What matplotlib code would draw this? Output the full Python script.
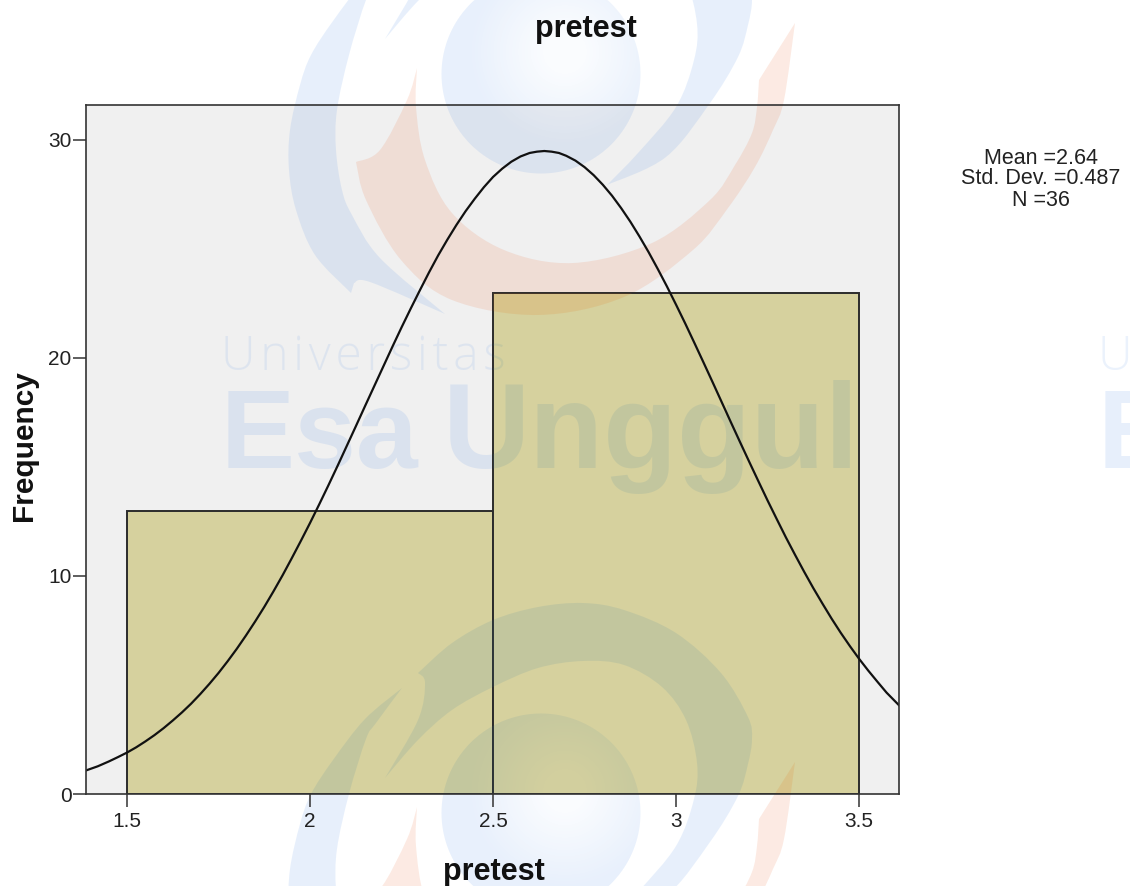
import numpy as np
import matplotlib
matplotlib.use('Agg')
import matplotlib.pyplot as plt
from matplotlib.colors import to_rgb
from matplotlib.path import Path
from matplotlib.patches import PathPatch
from matplotlib.transforms import Affine2D, TransformedBbox

plt.rcParams['font.family'] = ['Liberation Sans', 'DejaVu Sans']

title = 'pretest'
x_label = 'pretest'
y_label = 'Frequency'

bin_edges = [1.5, 2.5]
bin_width = 1.0
counts = [13, 23]

x_ticks = [1.5, 2, 2.5, 3, 3.5]
x_tick_labels = ['1.5', '2', '2.5', '3', '3.5']
y_ticks = [0, 10, 20, 30]

curve_x = [1.388, 1.42, 1.45, 1.475, 1.5, 1.525, 1.55, 1.575, 1.6, 1.625, 1.65, 1.675,
           1.7, 1.725, 1.75, 1.775, 1.8, 1.825, 1.85, 1.875, 1.9, 1.925, 1.95, 1.975,
           2.0, 2.025, 2.05, 2.075, 2.1, 2.125, 2.15, 2.175, 2.2, 2.225, 2.25, 2.275,
           2.3, 2.325, 2.35, 2.375, 2.4, 2.425, 2.45, 2.475, 2.5, 2.525, 2.55, 2.575,
           2.6, 2.62, 2.64, 2.66, 2.68, 2.7, 2.725, 2.75, 2.775, 2.8, 2.825, 2.85,
           2.875, 2.9, 2.925, 2.95, 2.975, 3.0, 3.025, 3.05, 3.075, 3.1, 3.125, 3.15,
           3.175, 3.2, 3.225, 3.25, 3.275, 3.3, 3.325, 3.35, 3.375, 3.4, 3.425, 3.45,
           3.475, 3.5, 3.525, 3.55, 3.575, 3.609]
curve_y = [1.08, 1.27, 1.49, 1.69, 1.90, 2.14, 2.41, 2.70, 3.02, 3.37, 3.74, 4.14,
           4.58, 5.05, 5.55, 6.09, 6.66, 7.27, 7.91, 8.58, 9.29, 10.03, 10.81, 11.61,
           12.43, 13.28, 14.15, 15.04, 15.95, 16.86, 17.78, 18.69, 19.6, 20.51, 21.4, 22.26,
           23.1, 23.92, 24.7, 25.42, 26.1, 26.73, 27.3, 27.83, 28.3, 28.68, 29.0, 29.24,
           29.4, 29.46, 29.49, 29.46, 29.40, 29.27, 29.05, 28.75, 28.38, 27.94, 27.44, 26.87,
           26.25, 25.57, 24.85, 24.08, 23.28, 22.44, 21.58, 20.69, 19.79, 18.88, 17.96, 17.04,
           16.13, 15.23, 14.34, 13.46, 12.61, 11.77, 10.97, 10.19, 9.44, 8.73, 8.04, 7.39,
           6.78, 6.20, 5.66, 5.15, 4.65, 4.07]

stats_lines = ['Mean =2.64', 'Std. Dev. =0.487', 'N =36']

# watermark outlines in image pixels, one list per smooth stretch between corners
crescent_left = [
    [(402, -51), (365, -20), (333, 21), (311, 55), (300, 85), (290, 130), (289, 170),
     (296, 210), (315, 255), (351, 293)],
    [(351, 293), (354, 283)],
    [(354, 283), (370, 282), (445, 314)],
    [(445, 314), (380, 258), (352, 215), (342, 190), (336, 150), (337, 110), (349, 55),
     (366, 0), (376, -16), (402, -51)],
]
swirl_blue = [
    [(385, 39), (418, 1), (452, -29), (493, -52), (538, -71), (583, -78), (624, -74),
     (662, -52), (686, -19), (697, 24), (694, 60), (676, 107), (638, 153), (607, 185)],
    [(607, 185), (666, 157), (710, 103), (738, 57), (748, 25), (752, 0), (748, -22),
     (721, -66), (676, -106), (624, -129), (583, -136), (538, -132), (493, -119),
     (452, -96), (418, -66)],
    [(418, -66), (425, -56), (418, -19), (385, 39)],
]
swirl_red = [
    [(417, 68), (407, 100), (380, 150), (356, 162)],
    [(356, 162), (366, 200), (401, 260), (452, 300), (538, 315), (624, 297),
     (693, 250), (728, 208), (755, 167), (773, 130), (784, 100), (795, 23)],
    [(795, 23), (759, 80)],
    [(759, 80), (757, 107), (752, 133), (735, 165), (710, 200), (652, 243), (573, 263),
     (504, 250), (452, 213), (425, 160), (416, 107), (417, 68)],
]
logo_offsets = [0, 739]


def smooth_path(stretches, dy):
    verts = []
    codes = []
    for pts in stretches:
        pts = np.array(pts, dtype=float) + [0, dy]
        if not verts:
            verts.append(pts[0])
            codes.append(Path.MOVETO)
        for i in range(len(pts) - 1):
            p0 = pts[max(i - 1, 0)]
            p1 = pts[i]
            p2 = pts[i + 1]
            p3 = pts[min(i + 2, len(pts) - 1)]
            verts.extend([p1 + (p2 - p0) / 6, p2 - (p3 - p1) / 6, p2])
            codes.extend([Path.CURVE4] * 3)
    verts.append(verts[0])
    codes.append(Path.CLOSEPOLY)
    return Path(np.array(verts), codes)


def add_circle(ax, pix, dy, rgb, zorder, clip=None):
    # shaded ball of the logo, lighter round its highlight
    size = 220
    yy, xx = np.mgrid[0:size, 0:size] + 0.5
    px = 430 + xx
    py = -35 + yy
    edge = np.clip(100 - np.hypot(px - 541, py - 74), 0, 1)
    shade = np.clip(np.hypot(px - 565, py - 52) / 95, 0.22, 1)
    arr = np.zeros((size, size, 4))
    arr[..., :3] = rgb
    arr[..., 3] = edge * shade * 0.12
    im = ax.imshow(arr, extent=(430, 430 + size, -35 + dy + size, -35 + dy),
                   transform=pix, zorder=zorder, aspect='auto',
                   interpolation='bilinear')
    if clip is None:
        im.set_clip_on(False)
    else:
        im.set_clip_path(clip, ax.transData)


fig = plt.figure(figsize=(11.3, 8.86), dpi=100, facecolor='white')
ax = fig.add_axes([86 / 1130, 1 - 794 / 886, 813 / 1130, 689 / 886])
ax.set_facecolor('#f0f0f0')

# image pixels, y going down
pix = Affine2D().scale(1, -1).translate(0, 886)

bars = ax.bar(bin_edges, counts, width=bin_width, align='edge', color='#d6d19e',
              edgecolor='#2b2b2b', linewidth=1.4, zorder=2)
ax.plot(curve_x, curve_y, color='#111111', linewidth=1.6, zorder=4)

ax.set_xticks(x_ticks)
ax.set_xticklabels(x_tick_labels)
ax.set_yticks(y_ticks)
ax.tick_params(axis='both', length=9.5, width=1.1, color='#333333',
               labelcolor='#222222', labelsize=15, pad=1)
ax.tick_params(axis='x', pad=3.5)
for spine in ax.spines.values():
    spine.set_color('#333333')
    spine.set_linewidth(1.2)
    spine.set_zorder(5)

bar_clip = Path.make_compound_path(
    *[b.get_path().transformed(b.get_patch_transform()) for b in bars])

# watermark: once under the bars, once tinted for the part over the bars
for layer_blue, layer_red, zorder, clip in [('#3f82e6', '#eb5519', 1, None),
                                            ('#387e9e', '#e96400', 3, bar_clip)]:
    for dy in logo_offsets:
        for shape, colour in [(crescent_left, layer_blue), (swirl_blue, layer_blue),
                              (swirl_red, layer_red)]:
            patch = PathPatch(smooth_path(shape, dy), facecolor=colour, edgecolor='none',
                              alpha=0.12, transform=pix, zorder=zorder)
            ax.add_patch(patch)
            if clip is None:
                patch.set_clip_on(False)
            else:
                patch.set_clip_path(clip, ax.transData)
        add_circle(ax, pix, dy, to_rgb(layer_blue), zorder, clip)

bar_box = TransformedBbox(bars[1].get_bbox(), ax.transData)
spaced = '\u200a'.join('Universitas')
for colour, zorder, clip_box in [('#3f82e6', 1, None), ('#387e9e', 3, bar_box)]:
    marks = []
    for x0 in [221, 1098]:
        marks.append(ax.text(x0, 370, spaced, transform=pix, fontsize=34.5,
                             color=colour, alpha=0.1, zorder=zorder, va='baseline',
                             family=['Open Sans', 'DejaVu Sans'], fontweight='light'))
        marks.append(ax.text(x0, 468, 'Esa', transform=pix, fontsize=80, color=colour,
                             alpha=0.12, zorder=zorder, va='baseline',
                             family='Liberation Sans', fontweight='bold'))
    marks.append(ax.text(443, 468, 'Unggul', transform=pix, fontsize=87, color=colour,
                         alpha=0.12, zorder=zorder, va='baseline',
                         family='Liberation Sans', fontweight='bold'))
    for t in marks:
        if clip_box is None:
            t.set_clip_on(False)
        else:
            t.set_clip_box(clip_box)
            t.set_clip_on(True)

ax.set_xlim(1.388, 3.609)
ax.set_ylim(0, 31.6)

ax.set_title(title, x=(586 - 86) / 813, y=(794 - 37) / 689, fontsize=22, fontweight='bold',
             va='center', color='#111111')
ax.set_xlabel(x_label, fontsize=22, fontweight='bold', color='#111111', va='center')
ax.xaxis.set_label_coords((494 - 86) / 813, -(872 - 794) / 689)
ax.set_ylabel(y_label, fontsize=21.5, fontweight='bold', color='#111111', va='center')
ax.yaxis.set_label_coords((24 - 86) / 813, (794 - 446) / 689)

for line, y in zip(stats_lines, [158, 179, 200]):
    fig.text(1041 / 1130, 1 - y / 886, line, fontsize=15.5, color='#222222',
             ha='center', va='center')

fig.savefig('out.png', dpi=100, facecolor='white')
